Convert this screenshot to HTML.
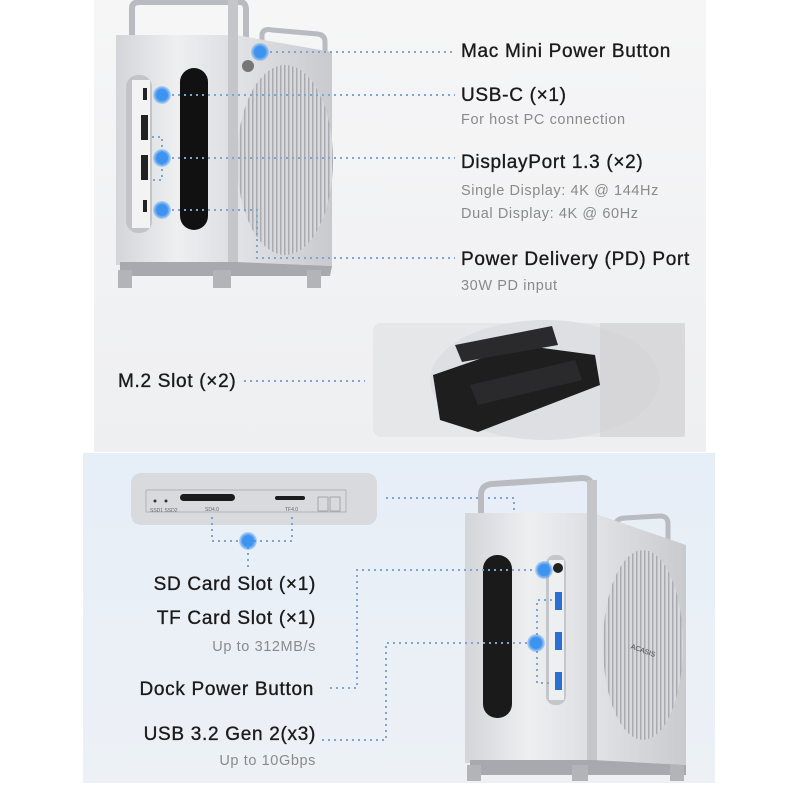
<!DOCTYPE html>
<html><head><meta charset="utf-8"><style>
html,body{margin:0;padding:0;background:#fff;}
svg{display:block;}
text{font-family:"Liberation Sans",sans-serif;}
.t{font-size:19px;fill:#1a1a1a;letter-spacing:0.7px;stroke:#1a1a1a;stroke-width:0.35px;}
.s{font-size:14.5px;fill:#8a8a8a;letter-spacing:0.6px;}
.d{stroke:#7fa6cf;stroke-width:2;stroke-dasharray:2 4;fill:none;}
</style></head><body>
<svg width="800" height="800" viewBox="0 0 800 800">
<defs>
<linearGradient id="bg1" x1="0" y1="0" x2="0" y2="1"><stop offset="0" stop-color="#f6f6f7"/><stop offset="1" stop-color="#eeeff1"/></linearGradient>
<linearGradient id="bg2" x1="0" y1="0" x2="0" y2="1"><stop offset="0" stop-color="#e6eef7"/><stop offset="1" stop-color="#edf1f6"/></linearGradient>
<linearGradient id="met" x1="0" y1="0" x2="1" y2="0"><stop offset="0" stop-color="#d4d5d8"/><stop offset=".5" stop-color="#eeeff1"/><stop offset="1" stop-color="#dcdde0"/></linearGradient>
<linearGradient id="side" x1="0" y1="0" x2="1" y2="0"><stop offset="0" stop-color="#e2e3e6"/><stop offset="1" stop-color="#c9cace"/></linearGradient>
<pattern id="fan" width="4" height="10" patternUnits="userSpaceOnUse"><rect width="4" height="10" fill="#d8d9dc"/><rect width="1.5" height="10" fill="#a9abb0"/></pattern>
<radialGradient id="dot"><stop offset=".6" stop-color="#3d93f0"/><stop offset="1" stop-color="#3d93f0" stop-opacity=".25"/></radialGradient>
</defs>
<rect x="94" y="0" width="612" height="452" fill="url(#bg1)"/>
<rect x="83" y="453" width="632" height="330" fill="url(#bg2)"/>

<!-- top device -->
<path d="M132 45 V8 Q132 2 140 2 H240 Q246 2 246 10 V40" stroke="#b9bbc0" stroke-width="6" fill="none"/>
<path d="M262 42 V34 Q264 28 272 30 L318 34 Q325 35 325 42 V60" stroke="#b9bbc0" stroke-width="5" fill="none"/>
<polygon points="236,35 332,52 332,266 236,262" fill="url(#side)"/>
<ellipse cx="285" cy="160" rx="48" ry="95" fill="url(#fan)"/>
<circle cx="248" cy="66" r="6" fill="#777"/>
<rect x="116" y="35" width="122" height="230" fill="url(#met)"/>
<rect x="228" y="0" width="10" height="268" fill="#c4c6ca"/>
<rect x="126" y="75" width="26" height="158" rx="12" fill="#c2c4c8"/>
<rect x="132" y="80" width="18" height="148" fill="#f3f3f4"/>
<rect x="143" y="88" width="4" height="12" fill="#222"/>
<rect x="141" y="115" width="7" height="25" fill="#222"/>
<rect x="141" y="155" width="7" height="25" fill="#222"/>
<rect x="143" y="200" width="4" height="12" fill="#222"/>
<rect x="180" y="68" width="28" height="162" rx="14" fill="#111"/>
<polygon points="120,262 236,262 332,266 330,276 120,276" fill="#a7a9ae"/>
<rect x="118" y="270" width="14" height="18" fill="#b2b4b8"/>
<rect x="213" y="270" width="18" height="18" fill="#b2b4b8"/>
<rect x="307" y="270" width="14" height="18" fill="#b2b4b8"/>

<path class="d" d="M270 52 H455"/>
<path class="d" d="M172 95 H455"/>
<path class="d" d="M172 158 H455"/>
<path class="d" d="M152 137 H162 V180 H152"/>
<path class="d" d="M172 210 H257 V258 H455"/>
<circle cx="260" cy="52" r="9" fill="url(#dot)"/>
<circle cx="162" cy="95" r="9" fill="url(#dot)"/>
<circle cx="162" cy="158" r="9" fill="url(#dot)"/>
<circle cx="162" cy="210" r="9" fill="url(#dot)"/>

<text class="t" x="461" y="57">Mac Mini Power Button</text>
<text class="t" x="461" y="101">USB-C (×1)</text>
<text class="s" x="461" y="124">For host PC connection</text>
<text class="t" x="461" y="168">DisplayPort 1.3 (×2)</text>
<text class="s" x="461" y="195">Single Display: 4K @ 144Hz</text>
<text class="s" x="461" y="218">Dual Display: 4K @ 60Hz</text>
<text class="t" x="461" y="265">Power Delivery (PD) Port</text>
<text class="s" x="461" y="290">30W PD input</text>

<!-- M.2 -->
<text class="t" x="118" y="387">M.2 Slot (×2)</text>
<path class="d" d="M244 381 H365"/>
<rect x="373" y="323" width="312" height="114" rx="8" fill="#e6e7e9"/>
<ellipse cx="545" cy="380" rx="115" ry="60" fill="#dedfe2"/>
<polygon points="433,375 520,345 595,355 600,385 478,432 440,420" fill="#1e1e1f"/>
<polygon points="455,345 552,326 558,345 462,362" fill="#2a2a2c"/>
<polygon points="470,385 575,360 582,380 478,405" fill="#2a2a2c"/>
<rect x="600" y="323" width="85" height="114" fill="#d0d1d4" opacity=".6"/>

<!-- dock card -->
<rect x="131" y="473" width="246" height="52" rx="10" fill="#d9dadd"/>
<rect x="146" y="490" width="200" height="22" fill="none" stroke="#aaa" stroke-width=".8"/>
<rect x="180" y="494" width="55" height="7" rx="3.5" fill="#1c1c1c"/>
<rect x="275" y="496" width="30" height="4" rx="2" fill="#1c1c1c"/>
<circle cx="155" cy="501" r="1.5" fill="#333"/><circle cx="166" cy="501" r="1.5" fill="#333"/>
<text x="150" y="512" font-size="5" fill="#666">SSD1 SSD2</text>
<text x="205" y="511" font-size="5" fill="#666">SD4.0</text>
<text x="285" y="511" font-size="5" fill="#666">TF4.0</text>
<rect x="318" y="497" width="10" height="14" fill="none" stroke="#999" stroke-width=".8"/>
<rect x="330" y="497" width="10" height="14" fill="none" stroke="#999" stroke-width=".8"/>

<path class="d" d="M212 517 V541 H292 V517"/>
<path class="d" d="M248 541 V568"/>
<circle cx="248" cy="541" r="9" fill="url(#dot)"/>
<path class="d" d="M386 498 H514 V520"/>

<!-- bottom device -->
<path d="M481 515 V495 Q481 485 492 484 L582 478 Q592 478 592 488 V520" stroke="#b9bbc0" stroke-width="6" fill="none"/>
<path d="M615 528 V525 Q617 518 625 518 L660 516 Q668 516 668 524 V545" stroke="#b9bbc0" stroke-width="5" fill="none"/>
<polygon points="593,513 686,545 686,765 593,760" fill="url(#side)"/>
<ellipse cx="643" cy="645" rx="40" ry="95" fill="url(#fan)"/>
<text x="630" y="650" font-size="7" fill="#444" transform="rotate(20 635 650)">ACASIS</text>
<rect x="465" y="513" width="130" height="250" fill="url(#met)"/>
<rect x="587" y="480" width="10" height="285" fill="#c4c6ca"/>
<rect x="483" y="555" width="29" height="163" rx="14" fill="#1a1a1a"/>
<rect x="546" y="555" width="20" height="150" rx="9" fill="#c4c6ca"/>
<rect x="549" y="560" width="15" height="140" fill="#eeeff1"/>
<circle cx="558" cy="568" r="5" fill="#222"/>
<rect x="555" y="592" width="7" height="18" fill="#2a6fd6"/>
<rect x="555" y="632" width="7" height="18" fill="#2a6fd6"/>
<rect x="555" y="672" width="7" height="18" fill="#2a6fd6"/>
<polygon points="470,760 593,760 686,765 686,775 470,775" fill="#a7a9ae"/>
<rect x="467" y="765" width="14" height="16" fill="#b2b4b8"/>
<rect x="572" y="765" width="16" height="16" fill="#b2b4b8"/>
<rect x="670" y="765" width="14" height="16" fill="#b2b4b8"/>

<path class="d" d="M330 688 H357 V570 H535"/>
<path class="d" d="M322 740 H386 V643 H527"/>
<path class="d" d="M552 600 H537 V683 H552"/>
<circle cx="544" cy="570" r="9" fill="url(#dot)"/>
<circle cx="536" cy="643" r="9" fill="url(#dot)"/>

<text class="t" x="316" y="590" text-anchor="end">SD Card Slot (×1)</text>
<text class="t" x="316" y="624" text-anchor="end">TF Card Slot (×1)</text>
<text class="s" x="316" y="651" text-anchor="end">Up to 312MB/s</text>
<text class="t" x="314" y="695" text-anchor="end">Dock Power Button</text>
<text class="t" x="316" y="740" text-anchor="end">USB 3.2 Gen 2(x3)</text>
<text class="s" x="316" y="765" text-anchor="end">Up to 10Gbps</text>
</svg>
</body></html>
